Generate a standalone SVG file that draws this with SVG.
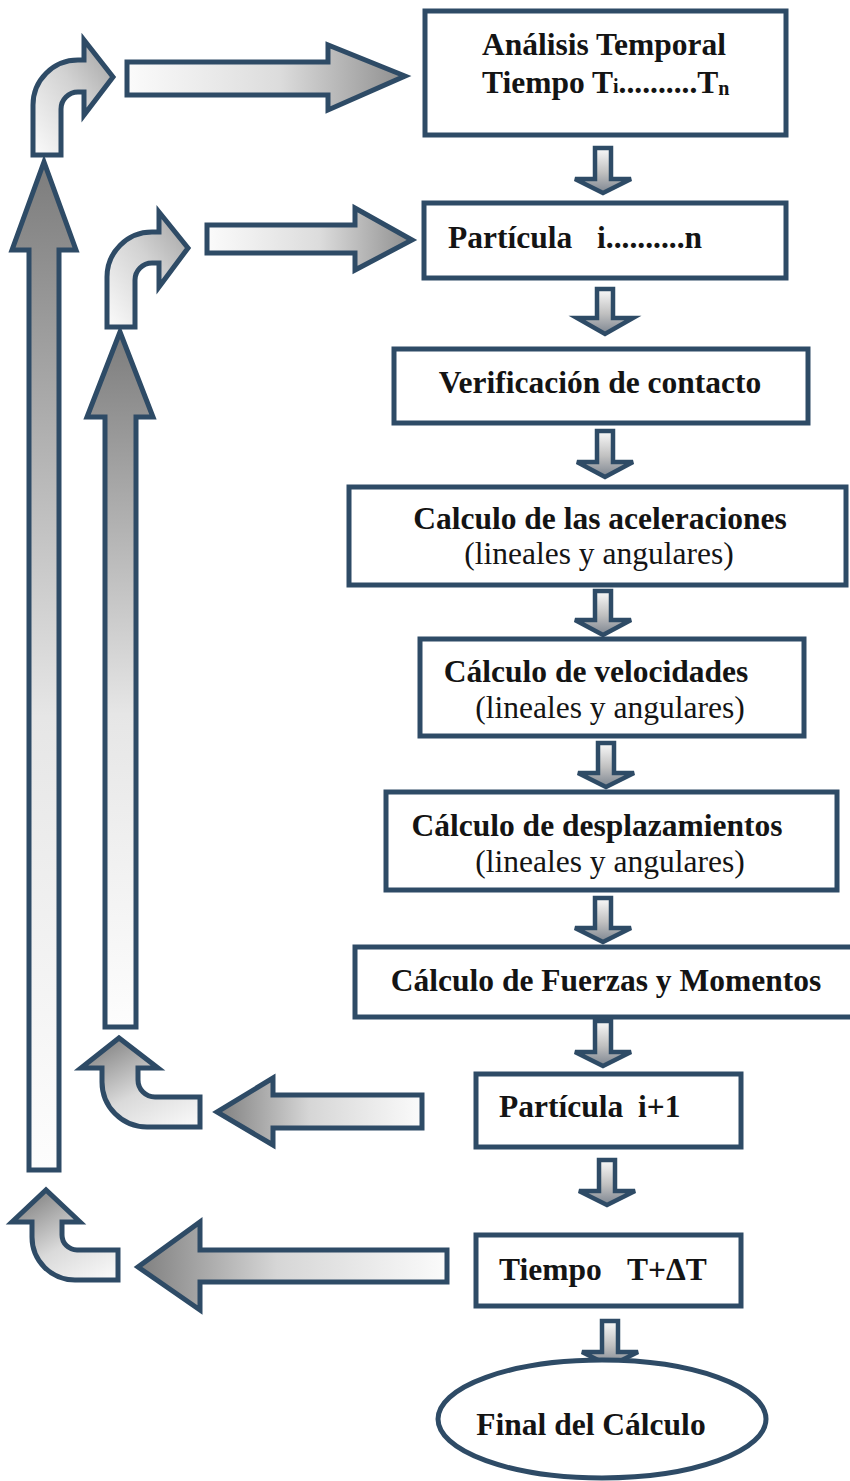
<svg xmlns="http://www.w3.org/2000/svg" width="850" height="1481" viewBox="0 0 850 1481">
<defs>
<style>
.box{fill:#fff;stroke:#2e4b66;stroke-width:5}
.arr{stroke:#2e4b66;stroke-width:5;stroke-linejoin:miter}
.sm{stroke:#2e4b66;stroke-width:4.5;stroke-linejoin:miter;fill:url(#gDown)}
.tb{font-family:'Liberation Serif','Times New Roman',serif;font-weight:bold;font-size:31.5px;fill:#141414}
.tr{font-family:'Liberation Serif','Times New Roman',serif;font-size:31.5px;fill:#141414}
</style>
<linearGradient id="gRight" x1="0" y1="0" x2="1" y2="0">
<stop offset="0" stop-color="#fbfbfb"/><stop offset="0.55" stop-color="#dcdcdc"/><stop offset="1" stop-color="#8e8e8e"/>
</linearGradient>
<linearGradient id="gLeft" x1="1" y1="0" x2="0" y2="0">
<stop offset="0" stop-color="#fbfbfb"/><stop offset="0.55" stop-color="#d6d6d6"/><stop offset="1" stop-color="#7f7f7f"/>
</linearGradient>
<linearGradient id="gUp" x1="0" y1="1" x2="0" y2="0">
<stop offset="0" stop-color="#fdfdfd"/><stop offset="0.45" stop-color="#e6e6e6"/><stop offset="1" stop-color="#7c7c7c"/>
</linearGradient>
<linearGradient id="gDown" x1="0" y1="0" x2="0" y2="1">
<stop offset="0" stop-color="#fafafa"/><stop offset="0.55" stop-color="#c0c0c0"/><stop offset="1" stop-color="#7d8590"/>
</linearGradient>
<linearGradient id="gTurnR" x1="0" y1="1" x2="1" y2="0">
<stop offset="0" stop-color="#fbfbfb"/><stop offset="0.55" stop-color="#d2d2d2"/><stop offset="1" stop-color="#a0a0a0"/>
</linearGradient>
<linearGradient id="gTurnU" x1="1" y1="1" x2="0.3" y2="0">
<stop offset="0" stop-color="#fbfbfb"/><stop offset="0.5" stop-color="#dadada"/><stop offset="1" stop-color="#8a8a8a"/>
</linearGradient>
</defs>

<g id="connectors">
  <path class="arr" fill="url(#gTurnR)" d="M33,155 L33,105 A45,45 0 0 1 78,60 L84,60 L84,40 L113,77 L84,115 L84,92 L78,92 A17,17 0 0 0 61,109 L61,155 Z"/>
  <path class="arr" fill="url(#gRight)" d="M127,62 L328,62 L328,45 L405,76 L328,110 L328,95 L127,95 Z"/>
  <path class="arr" fill="url(#gTurnR)" d="M107,327 L107,277 A45,45 0 0 1 152,232 L159,232 L159,212 L188,248 L159,287 L159,263 L152,263 A17,17 0 0 0 135,280 L135,327 Z"/>
  <path class="arr" fill="url(#gRight)" d="M207,225 L355,225 L355,208 L412,240 L355,270 L355,253 L207,253 Z"/>
  <path class="arr" fill="url(#gUp)" d="M29,1170 L29,250 L12,250 L44,162 L76,250 L59,250 L59,1170 Z"/>
  <path class="arr" fill="url(#gUp)" d="M105,1027 L105,417 L87,417 L120,332 L153,417 L136,417 L136,1027 Z"/>
  <path class="arr" fill="url(#gLeft)" d="M422,1095 L273,1095 L273,1078 L217,1112 L273,1145 L273,1128 L422,1128 Z"/>
  <path class="arr" fill="url(#gTurnU)" d="M200,1097 L155,1097 A17,17 0 0 1 138,1080 L138,1068 L158,1068 L119,1038 L81,1068 L102,1068 L102,1082 A45,45 0 0 0 147,1127 L200,1127 Z"/>
  <path class="arr" fill="url(#gLeft)" d="M447,1250 L200,1250 L200,1222 L138,1267 L200,1310 L200,1282 L447,1282 Z"/>
  <path class="arr" fill="url(#gTurnU)" d="M118,1250 L77,1250 A15,15 0 0 1 62,1235 L62,1222 L80,1222 L46,1190 L12,1222 L32,1222 L32,1237 A43,43 0 0 0 75,1280 L118,1280 Z"/>
  <path class="sm" d="M595,148 L611,148 L611,179 L631,179 L603,193 L575,179 L595,179 Z"/>
  <path class="sm" d="M597,289 L613,289 L613,318 L633,318 L605,334 L577,318 L597,318 Z"/>
  <path class="sm" d="M597,431 L613,431 L613,462 L633,462 L605,477 L577,462 L597,462 Z"/>
  <path class="sm" d="M595,591 L611,591 L611,620 L631,620 L603,635 L575,620 L595,620 Z"/>
  <path class="sm" d="M598,743 L614,743 L614,773 L634,773 L606,787 L578,773 L598,773 Z"/>
  <path class="sm" d="M595,898 L611,898 L611,928 L631,928 L603,942 L575,928 L595,928 Z"/>
  <path class="sm" d="M595,1021 L611,1021 L611,1052 L631,1052 L603,1066 L575,1052 L595,1052 Z"/>
  <path class="sm" d="M599,1160 L615,1160 L615,1191 L635,1191 L607,1205 L579,1191 L599,1191 Z"/>
  <path class="sm" d="M602,1321 L618,1321 L618,1352 L638,1352 L610,1366 L582,1352 L602,1352 Z"/>
</g>

<g id="n1">
  <rect class="box" x="425" y="11" width="361" height="124"/>
  <text class="tb" x="604" y="55" text-anchor="middle">Análisis Temporal</text>
  <text class="tb" x="482" y="93">Tiempo T<tspan font-size="20">i</tspan>..........T<tspan font-size="20" dy="2">n</tspan></text>
</g>
<g id="n2">
  <rect class="box" x="424" y="203" width="362" height="75"/>
  <text class="tb" y="248"><tspan x="448">Partícula</tspan><tspan x="597">i..........n</tspan></text>
</g>
<g id="n3">
  <rect class="box" x="394" y="349" width="414" height="74"/>
  <text class="tb" x="600" y="393" text-anchor="middle">Verificación de contacto</text>
</g>
<g id="n4">
  <rect class="box" x="349" y="487" width="497" height="98"/>
  <text class="tb" x="600" y="529" text-anchor="middle">Calculo de las aceleraciones</text>
  <text class="tr" x="599" y="564" text-anchor="middle">(lineales y angulares)</text>
</g>
<g id="n5">
  <rect class="box" x="420" y="639" width="384" height="97"/>
  <text class="tb" x="596" y="682" text-anchor="middle">Cálculo de velocidades</text>
  <text class="tr" x="610" y="718" text-anchor="middle">(lineales y angulares)</text>
</g>
<g id="n6">
  <rect class="box" x="386" y="792" width="451" height="98"/>
  <text class="tb" x="597" y="836" text-anchor="middle">Cálculo de desplazamientos</text>
  <text class="tr" x="610" y="872" text-anchor="middle">(lineales y angulares)</text>
</g>
<g id="n7">
  <rect class="box" x="355" y="947" width="498" height="70"/>
  <text class="tb" x="606" y="991" text-anchor="middle">Cálculo de Fuerzas y Momentos</text>
</g>
<g id="n8">
  <rect class="box" x="476" y="1074" width="265" height="73"/>
  <text class="tb" y="1117"><tspan x="499">Partícula</tspan><tspan x="638">i+1</tspan></text>
</g>
<g id="n9">
  <rect class="box" x="476" y="1235" width="265" height="71"/>
  <text class="tb" y="1280"><tspan x="499">Tiempo</tspan><tspan x="627">T+ΔT</tspan></text>
</g>
<g id="n10">
  <ellipse class="box" cx="602" cy="1419" rx="164" ry="59"/>
  <text class="tb" x="591" y="1435" text-anchor="middle" font-size="33">Final del Cálculo</text>
</g>
</svg>
